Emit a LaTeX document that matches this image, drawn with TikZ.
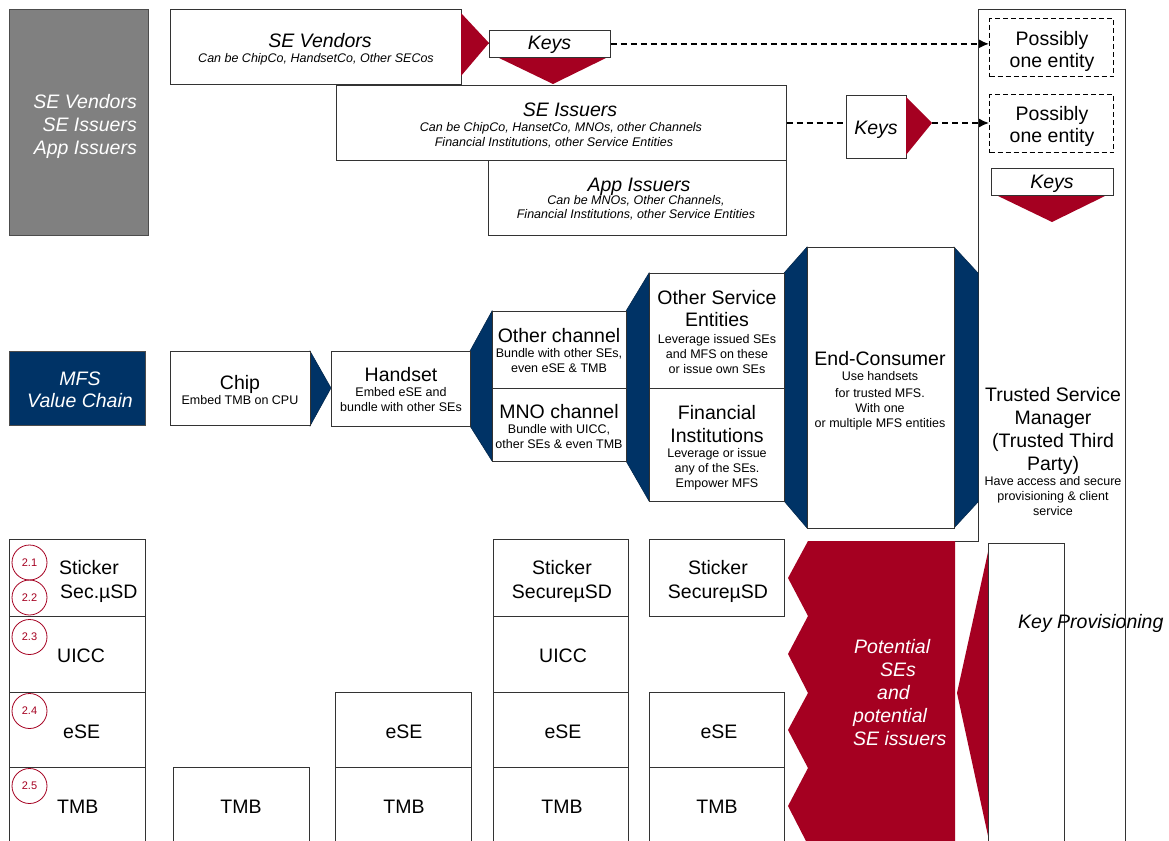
\documentclass[tikz,border=0pt]{standalone}
\usepackage{fontspec}
\setmainfont{Liberation Sans}
\usetikzlibrary{arrows.meta}
\definecolor{sered}{RGB}{165,0,33}
\definecolor{senavy}{RGB}{0,51,102}
\definecolor{segray}{RGB}{128,128,128}
\newcommand\fbig{\fontsize{19.5}{22}\selectfont}
\newcommand\fbigw{\fontsize{19.5}{23}\selectfont}
\newcommand\fsml{\fontsize{12.5}{15}\selectfont}
\begin{document}
\begin{tikzpicture}[x=1pt,y=-1pt,
  box/.style={draw=black!80,line width=0.7pt,fill=white,inner sep=0pt,anchor=north west},
  dbox/.style={box,line width=1.4pt,draw=black,dash pattern=on 5pt off 3pt},
  txt/.style={inner sep=0pt,align=center,font=\fsml},
  itxt/.style={inner sep=0pt,align=center,font=\fsml\itshape},
  bigt/.style={inner sep=0pt,align=center,font=\fbig},
  bigi/.style={inner sep=0pt,align=center,font=\fbig\itshape},
  navyp/.style={fill=senavy,draw=senavy!70!black,line width=0.5pt},
  redp/.style={fill=sered},
  darr/.style={line width=1.6pt,dash pattern=on 6pt off 4pt,-{Latex[length=10pt,width=9pt]}},
  dline/.style={line width=1.6pt,dash pattern=on 6pt off 4pt},
  num/.style={circle,draw=sered,line width=0.8pt,minimum size=35pt,inner sep=0pt,text=sered,font=\fontsize{11}{13}\selectfont},
  edge/.style={draw=black!80,line width=0.7pt}
]
\useasboundingbox (0,0) rectangle (1169,840);
\clip (0,0) rectangle (1169,840);
\fill[white] (0,0) rectangle (1169,840);

% Trusted Service Manager column
\node[box,draw=none,minimum width=147pt,minimum height=836pt] (tsm) at (978,9) {};
\coordinate (tsmcut) at (978,541);
\coordinate (tsmstub) at (955,541);
\draw[edge] (tsmstub) -- (tsmcut) -- (tsm.north west) -- (tsm.north east) -- (tsm.south east);
\node[dbox,minimum width=124pt,minimum height=58pt] (poss1) at (989,18) {};
\node[bigt] (poss1T) at (1052,51) {Possibly\\one entity};
\node[dbox,minimum width=124pt,minimum height=58pt] (poss2) at (989,94) {};
\node[bigt] (poss2T) at (1052,126) {Possibly\\one entity};
\fill[redp] (996,195) -- (1107,195) -- (1052,222) -- cycle;
\node[box,minimum width=122pt,minimum height=27pt] (keys3) at (991,168) {};
\node[bigi,anchor=base] (keys3T) at (1052,188) {Keys};
\node[inner sep=0pt,align=center,font=\fbigw] (tsmT) at (1053,451) {Trusted Service\\Manager\\(Trusted Third\\Party)\\[-8pt]{\fsml Have access and secure}\\[-8pt]{\fsml provisioning \& client}\\[-8pt]{\fsml service}};

% Left grey label
\node[box,fill=segray,draw=black!70,minimum width=139pt,minimum height=226pt] (gray) at (9,9) {};
\node[bigi,text=white,align=right,anchor=east] (grayT) at (137,126) {SE Vendors\\[1pt]SE Issuers\hspace*{1pt}\\[1pt]App Issuers};

% Vendors / issuers
\node[box,minimum width=291pt,minimum height=75pt] (sev) at (170,9) {};
\node[itxt] (sevT) at (316,49.5) {{\fbig\hspace*{8pt}SE Vendors}\\Can be ChipCo, HandsetCo, Other SECos};
\node[box,minimum width=450pt,minimum height=75pt] (sei) at (336,85) {};
\node[itxt] (seiT) at (561,125) {{\fbig\hspace*{18pt}SE Issuers}\\Can be ChipCo, HansetCo, MNOs, other Channels\hspace*{4pt}\\Financial Institutions, other Service Entities\hspace*{14pt}};
\node[box,minimum width=298pt,minimum height=75pt] (api) at (488,160) {};
\node[itxt] (apiT) at (636,199.5) {{\fbig\hspace*{6pt}App Issuers}\\[-2pt]Can be MNOs, Other Channels,\\[-1pt]Financial Institutions, other Service Entities};

\node[box,minimum width=121pt,minimum height=27pt] (keys1) at (489,30) {};
\draw[edge] (sev.east |- keys1.west) -- (keys1.west);
\fill[redp] (461,13) -- (489,43) -- (461,76) -- cycle;
\fill[redp] (497,57) -- (608,57) -- (553,84) -- cycle;
\node[box,minimum width=121pt,minimum height=27pt] (keys1b) at (489,30) {};
\node[bigi,anchor=base] (keys1T) at (549.5,50) {Keys};
\draw[darr] (keys1b.east) -- (keys1b.east -| poss1.west);

\node[box,minimum width=60pt,minimum height=63pt] (keys2) at (846,95) {};
\node[bigi,anchor=base] (keys2T) at (876,135) {Keys};
\coordinate (rt3tip) at (932,123);
\fill[redp] (906,97) -- (rt3tip) -- (906,155) -- cycle;
\draw[dline] (sei.east |- rt3tip) -- (rt3tip -| keys2.west);
\draw[darr] (rt3tip) -- (rt3tip -| poss2.west);

% MFS value chain
\node[box,fill=senavy,draw=black!70,minimum width=136pt,minimum height=74pt] (mfs) at (9,351) {};
\node[bigi,text=white] (mfsT) at (80,390) {MFS\\Value Chain};

\fill[navyp] (310,351) -- (331,388) -- (310,426) -- cycle;
\node[box,minimum width=140pt,minimum height=74pt] (chip) at (170,351) {};
\node[txt] (chipT) at (240,389.5) {{\fbig Chip}\\Embed TMB on CPU};

\filldraw[navyp] (470,351) -- (492,311) -- (492,461) -- (470,426) -- cycle;
\node[box,minimum width=139pt,minimum height=75pt] (hand) at (331,351) {};
\node[txt] (handT) at (401,389.5) {{\fbig Handset}\\Embed eSE and\\bundle with other SEs};

\filldraw[navyp] (626,311) -- (649,273) -- (649,501) -- (626,461) -- cycle;
\node[box,minimum width=134pt,minimum height=77pt] (othch) at (492,311) {};
\node[txt] (othchT) at (559,350.5) {{\fbig Other channel}\\Bundle with other SEs,\\even eSE \& TMB};
\node[box,minimum width=134pt,minimum height=73pt] (mnoch) at (492,388) {};
\node[txt] (mnochT) at (559,426.5) {{\fbig MNO channel}\\Bundle with UICC,\\other SEs \& even TMB};

\filldraw[navyp] (784,273) -- (807,247) -- (807,528) -- (784,501) -- cycle;
\node[box,minimum width=135pt,minimum height=115pt] (ose) at (649,273) {};
\node[txt] (oseT) at (717,332) {{\fbig Other Service}\\[7pt]{\fbig Entities}\\[2pt]Leverage issued SEs\\and MFS on these\\or issue own SEs};
\node[box,minimum width=135pt,minimum height=113pt] (fin) at (649,388) {};
\node[txt] (finT) at (717,447.5) {{\fbig Financial}\\[8pt]{\fbig Institutions}\\Leverage or issue\\any of the SEs.\\Empower MFS};

\filldraw[navyp] (954,247) -- (978,273) -- (978,502) -- (954,528) -- cycle;
\node[box,minimum width=147pt,minimum height=281pt] (endc) at (807,247) {};
\node[txt] (endcT) at (880,390.5) {{\fbig End-Consumer}\\Use handsets\\[2pt]for trusted MFS.\\With one\\or multiple MFS entities};

% Bottom-left SE list
\node[box,minimum width=136pt,minimum height=77pt] (bl1) at (9,539) {};
\node[box,minimum width=136pt,minimum height=76pt] (bl2) at (9,616) {};
\node[box,minimum width=136pt,minimum height=75pt] (bl3) at (9,692) {};
\node[box,minimum width=136pt,minimum height=78pt] (bl4) at (9,767) {};
\node[bigt,anchor=base west] (bl1a) at (59,574) {Sticker};
\node[bigt,anchor=base west] (bl1b) at (60,598) {Sec.µSD};
\node[bigt,anchor=base west] (bl2T) at (57,662) {UICC};
\node[bigt,anchor=base west] (bl3T) at (63,738) {eSE};
\node[bigt,anchor=base west] (bl4T) at (57,813) {TMB};
\node[num] (c21) at (29.5,562.5) {2.1};
\node[num] (c22) at (29.5,597.5) {2.2};
\node[num] (c23) at (29.5,637) {2.3};
\node[num] (c24) at (29.5,711) {2.4};
\node[num] (c25) at (29.5,786) {2.5};

% Bottom columns
\node[box,minimum width=136pt,minimum height=78pt] (tmb1) at (173,767) {};
\node[bigt,anchor=base] (tmb1T) at (241,813) {TMB};

\node[box,minimum width=136pt,minimum height=75pt] (ese2) at (335,692) {};
\node[bigt,anchor=base] (ese2T) at (404,738) {eSE};
\node[box,minimum width=136pt,minimum height=78pt] (tmb2) at (335,767) {};
\node[bigt,anchor=base] (tmb2T) at (404,813) {TMB};

\node[box,minimum width=135pt,minimum height=77pt] (stk3) at (493,539) {};
\node[bigt] (stk3T) at (562,581) {Sticker\\[2pt]SecureµSD};
\node[box,minimum width=135pt,minimum height=76pt] (uicc3) at (493,616) {};
\node[bigt,anchor=base] (uicc3T) at (563,662) {UICC};
\node[box,minimum width=135pt,minimum height=75pt] (ese3) at (493,692) {};
\node[bigt,anchor=base] (ese3T) at (563,738) {eSE};
\node[box,minimum width=135pt,minimum height=78pt] (tmb3) at (493,767) {};
\node[bigt,anchor=base] (tmb3T) at (562,813) {TMB};

\node[box,minimum width=135pt,minimum height=77pt] (stk4) at (649,539) {};
\node[bigt] (stk4T) at (718,581) {Sticker\\[2pt]SecureµSD};
\node[box,minimum width=135pt,minimum height=75pt] (ese4) at (649,692) {};
\node[bigt,anchor=base] (ese4T) at (719,738) {eSE};
\node[box,minimum width=135pt,minimum height=78pt] (tmb4) at (649,767) {};
\node[bigt,anchor=base] (tmb4T) at (717,813) {TMB};

% Potential SEs (red zigzag)
\fill[redp] (808,541) -- (788,578) -- (808,616) -- (788,654) -- (808,693) -- (788,730) -- (808,768) -- (788,806) -- (808,845) -- (955,845) -- (955,541) -- cycle;
\node[bigi,text=white,align=left,anchor=west] (potT) at (853,692.5) {\hspace*{1pt}Potential\\[1pt]\hspace*{27pt}SEs\\[1pt]\hspace*{24pt}and\\[1pt]potential\\[1pt]SE issuers};

% Key provisioning
\fill[redp] (990,543) -- (957,693) -- (990,845) -- cycle;
\node[box,minimum width=76pt,minimum height=302pt] (keyprov) at (988,543) {};
\node[bigi,anchor=base west] (keyprovT) at (1018,628) {Key Provisioning};
\draw[edge] (tsm.north east) -- (tsm.south east);
\end{tikzpicture}
\end{document}
